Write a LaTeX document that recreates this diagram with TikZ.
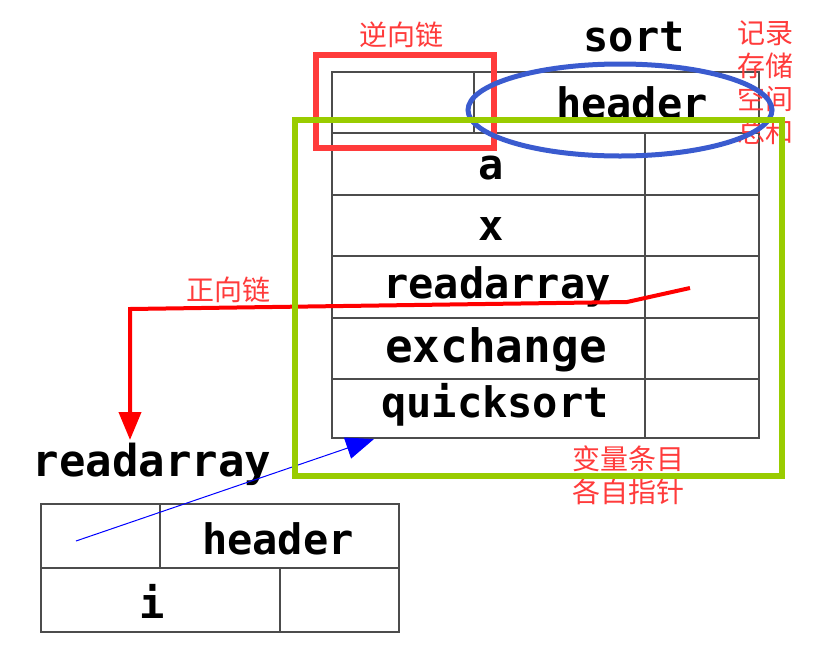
\documentclass[tikz,border=0pt]{standalone}
\usepackage{fontspec}
\setmonofont{DejaVu Sans Mono}
\newfontfamily\cjk{Noto Sans CJK SC}
\usetikzlibrary{arrows.meta}

\definecolor{notered}{HTML}{FF3B3B}
\definecolor{chainred}{HTML}{FF0000}
\definecolor{ovalblue}{HTML}{3A5BCF}
\definecolor{boxgreen}{HTML}{99CC00}

\tikzset{
  grid/.style={draw=black!70, line width=1.2pt},
  word/.style={font=\ttfamily\bfseries\fontsize{42}{42}\selectfont, inner sep=0pt},
  note/.style={font=\cjk\fontsize{28}{33}\selectfont, text=notered, inner sep=0pt, align=center},
  fwdlink/.style={draw=chainred, line width=4pt, -{Triangle[length=28pt,width=22pt]}},
  ptrlink/.style={draw=blue, line width=1pt, -{Triangle[length=28pt,width=22pt]}}
}

\begin{document}
\begin{tikzpicture}[x=1pt, y=-1pt]
			\useasboundingbox (0,0) rectangle (814,670);

			% Sort table
			\draw[grid] (332,72) rectangle (759,438);
			\foreach \y in {133,195,256,318,379} {
				\draw[grid] (332,\y) -- (759,\y);
			}
			\draw[grid] (474,72) -- (474,133);
			\draw[grid] (645,133) -- (645,438);

			% Readarray table
			\draw[grid] (41,504) rectangle (399,632);
			\draw[grid] (41,568) -- (399,568);
			\draw[grid] (160,504) -- (160,568);
			\draw[grid] (280,568) -- (280,632);

			% Nodes
			\node[word] (sortname) at (634,37) {sort};
			\node[word] (sorthead) at (632,103) {header};
			\node[word] (a) at (491,168) {a};
			\node[word] (x) at (491,229) {x};
			\node[word] (rdarr) at (497,287) {readarray};
			\node[word, font=\ttfamily\bfseries\fontsize{46}{46}\selectfont] (exch) at (496,350) {exchange};
			\node[word] (qsort) at (495,405) {quicksort};
			\node[word, font=\ttfamily\bfseries\fontsize{44}{44}\selectfont] (rdname) at (152,464) {readarray};
			\node[word] (rdhead) at (278,539) {header};
			\node[word] (i) at (152,601) {i};

			\node[note] (back) at (401,35) {逆向链};
			\node[note] (fwd) at (228,290) {正向链};
			\node[note] (total) at (765,83) {记录\\存储\\空间\\总和};
			\node[note] (ptrs) at (628,475) {变量条目\\各自指针};

			% Links
			\coordinate (fwdstart) at (690,288);
			\coordinate (ptrstart) at (76,541);
			\coordinate (sortfoot) at (374,439);
			\draw[fwdlink] (fwdstart) -- (627,302) -- (130,309) -- (130,440);
			\draw[ptrlink] (ptrstart) -- (sortfoot);

			% Marks
			\draw[notered, line width=6pt] (316,55) rectangle (494,148);
			\draw[ovalblue, line width=5pt] (620,110) ellipse [x radius=152, y radius=46];
			\draw[boxgreen, line width=6pt] (295,120) rectangle (782,476);

		\end{tikzpicture}
\end{document}
